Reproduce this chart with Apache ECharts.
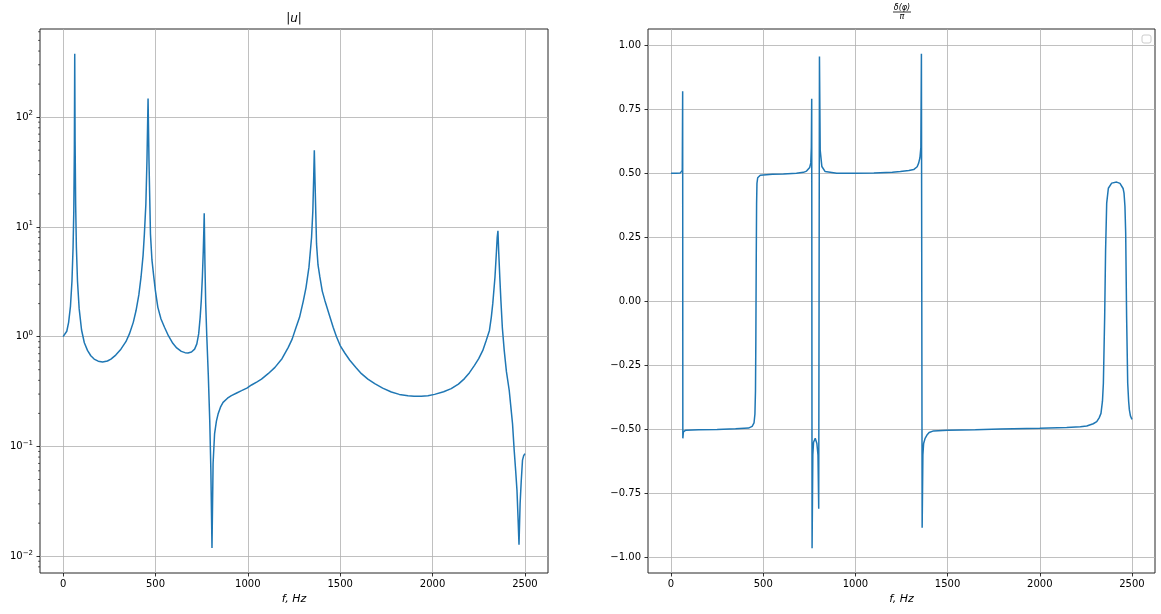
<!DOCTYPE html>
<html><head><meta charset="utf-8">
<script src="https://cdn.jsdelivr.net/npm/echarts@6/dist/echarts.min.js"></script>
<style>html,body{margin:0;padding:0;background:#fff}#c{width:1161px;height:614px}</style>
</head><body><div id="c"></div>
<script>
// |u| (left panel)
const ampFreq = [0,10,20,30,40,48,54,58,61,63,65,68,72,78,87,100,115,132,150,168,190,214,240,259,285,313,340,359,380,395,410,422,433,440,448,454,460,465,473,481,491,500,513,530,549,570,594,615,640,660,676,695,712,724,734,742,748,754,759,762,764,768,772,778,786,794,800,806,812,820,830,839,852,866,890,911,940,966,995,1020,1050,1074,1110,1147,1185,1219,1240,1260,1280,1300,1315,1331,1345,1352,1357,1360,1364,1372,1380,1390,1403,1417,1440,1462,1480,1500,1525,1552,1585,1615,1650,1687,1730,1777,1820,1867,1900,1939,1975,2011,2060,2101,2140,2173,2200,2227,2250,2272,2290,2308,2318,2326,2338,2346,2350,2354,2358,2364,2370,2378,2388,2400,2415,2425,2433,2442,2450,2457,2463,2468,2474,2480,2487,2493,2500];
const ampVal = [1.0,1.03,1.12,1.35,1.9,3.2,6.5,14,50,378,60,16,6.5,3.2,1.8,1.15,0.88,0.75,0.67,0.625,0.598,0.587,0.6,0.625,0.68,0.77,0.9,1.06,1.35,1.73,2.4,3.5,5.5,8.6,16,40,148,40,8.6,5.0,3.5,2.6,1.85,1.45,1.22,1.02,0.87,0.79,0.735,0.715,0.71,0.725,0.77,0.86,1.06,1.5,2.13,3.5,6.1,9.5,13.3,4.5,2.0,1.0,0.45,0.17,0.06,0.0119,0.07,0.13,0.17,0.197,0.228,0.252,0.275,0.29,0.307,0.322,0.34,0.363,0.388,0.41,0.46,0.525,0.63,0.8,0.95,1.2,1.5,2.1,2.8,4.3,8,14,30,50,25,7,4.5,3.5,2.6,2.14,1.6,1.22,1.0,0.83,0.71,0.61,0.525,0.46,0.41,0.373,0.34,0.313,0.298,0.29,0.287,0.286,0.29,0.298,0.315,0.336,0.37,0.415,0.47,0.548,0.63,0.75,0.92,1.14,1.5,2.0,3.5,6.0,8.0,9.2,6.0,3.5,2.14,1.2,0.75,0.48,0.325,0.22,0.161,0.092,0.06,0.04,0.022,0.0127,0.03,0.048,0.075,0.082,0.086];

// delta(phi)/pi (right panel)
const phaseFreq = [0,30,50,58,61,63,64,67,80,150,250,350,420,440,450,455,458,460,462,464,466,470,484,550,610,680,718,735,745,752,758,761,763,765,769,773,782,791,797,801,805,809,818,836,899,1000,1100,1200,1244,1290,1316,1335,1343,1350,1355,1358,1362,1366,1370,1378,1388,1400,1424,1500,1650,1785,2000,2146,2220,2255,2290,2309,2322,2332,2340,2345,2352,2357,2363,2372,2390,2417,2435,2444,2452,2457,2462,2466,2471,2477,2482,2486,2492,2500];
const phaseVal = [0.5,0.5,0.501,0.503,0.51,0.82,-0.535,-0.51,-0.503,-0.501,-0.5,-0.498,-0.495,-0.488,-0.475,-0.44,-0.35,-0.15,0.15,0.38,0.46,0.482,0.492,0.496,0.497,0.5,0.503,0.508,0.513,0.522,0.54,0.6,0.79,-0.964,-0.6,-0.55,-0.535,-0.555,-0.6,-0.81,0.955,0.59,0.526,0.506,0.5,0.5,0.501,0.503,0.506,0.51,0.514,0.525,0.539,0.56,0.6,0.966,-0.884,-0.6,-0.555,-0.535,-0.522,-0.512,-0.506,-0.503,-0.501,-0.499,-0.496,-0.493,-0.49,-0.487,-0.478,-0.47,-0.455,-0.4375,-0.39,-0.32,-0.06,0.2,0.383,0.441,0.461,0.465,0.46,0.454,0.44,0.422,0.37,0.266,-0.06,-0.32,-0.39,-0.424,-0.448,-0.461];

const xTicks = [0,500,1000,1500,2000,2500];
const ampTicks = [0.01,0.1,1,10,100];
const phaseTicks = [-1,-0.75,-0.5,-0.25,0,0.25,0.5,0.75,1];

const FONT = 'DejaVu Sans';
const LINE = '#1f77b4';
const GRIDC = '#b0b0b0';

const chart = echarts.init(document.getElementById('c'), null, {renderer:'canvas'});

function xAxisCfg(gi){
  return {
    type:'value', gridIndex:gi, min:-125, max:2625, position:'bottom',
    axisLine:{show:false, onZero:false},
    axisTick:{show:true, inside:false, length:3.5, customValues:xTicks, lineStyle:{color:'#000', width:0.8}},
    axisLabel:{customValues:xTicks, fontSize:10, color:'#000', margin:6, fontFamily:FONT,
      formatter:function(v){ return String(v); }},
    splitLine:{show:true, lineStyle:{color:GRIDC, width:0.8}},
    name:'f, Hz', nameLocation:'middle', nameGap:20,
    nameTextStyle:{fontStyle:'italic', fontSize:11, color:'#000', fontFamily:FONT}
  };
}

function supFmt(v){
  const e = Math.round(Math.log10(v));
  return '10{sup|' + (e < 0 ? '\u2212' : '') + Math.abs(e) + '}';
}

const option = {
  animation:false,
  backgroundColor:'#fff',
  grid:[
    {left:40, top:29, width:508, height:544, show:true, borderColor:'#262626', borderWidth:1, containLabel:false},
    {left:648, top:29, width:507, height:544, show:true, borderColor:'#262626', borderWidth:1, containLabel:false}
  ],
  xAxis:[xAxisCfg(0), xAxisCfg(1)],
  yAxis:[
    {type:'log', logBase:10, gridIndex:0, position:'left', min:Math.pow(10,-2.153), max:Math.pow(10,2.803),
     axisLine:{show:false, onZero:false},
     axisTick:{show:true, inside:false, length:3.5, customValues:ampTicks, lineStyle:{color:'#000', width:0.8}},
     axisLabel:{customValues:ampTicks, fontSize:10, color:'#000', margin:7, fontFamily:FONT,
       formatter:supFmt,
       rich:{sup:{fontSize:7, color:'#000', fontFamily:FONT, padding:[0,0,7,0]}}},
     splitLine:{show:true, lineStyle:{color:GRIDC, width:0.8}}
    },
    {type:'value', gridIndex:1, position:'left', min:-1.0605, max:1.0625,
     axisLine:{show:false, onZero:false},
     axisTick:{show:true, inside:false, length:3.5, customValues:phaseTicks, lineStyle:{color:'#000', width:0.8}},
     axisLabel:{customValues:phaseTicks, fontSize:10, color:'#000', margin:7, fontFamily:FONT,
       formatter:function(v){ return (v < 0 ? '\u2212' : '') + Math.abs(v).toFixed(2); }},
     splitLine:{show:true, lineStyle:{color:GRIDC, width:0.8}}
    }
  ],
  series:[
    {type:'line', xAxisIndex:0, yAxisIndex:0, showSymbol:false, symbol:'none',
     data: ampFreq.map((f,i)=>[f, ampVal[i]]),
     lineStyle:{color:LINE, width:1.5}, itemStyle:{color:LINE}, z:5},
    {type:'line', xAxisIndex:1, yAxisIndex:1, showSymbol:false, symbol:'none',
     data: phaseFreq.map((f,i)=>[f, phaseVal[i]]),
     lineStyle:{color:LINE, width:1.5}, itemStyle:{color:LINE}, z:5}
  ]
};
chart.setOption(option);

// titles, empty legend frame, log minor ticks
const g = [];
g.push({type:'text', x:294, y:19, style:{text:'|{i|u}|', fontSize:12, fontFamily:FONT, fill:'#000',
  align:'center', verticalAlign:'middle', rich:{i:{fontStyle:'italic', fontSize:12, fontFamily:FONT, fill:'#000'}}}});
g.push({type:'text', x:902, y:7.5, style:{text:'\u03b4(\u03c6)', fontSize:8, fontStyle:'italic', fontFamily:FONT, fill:'#000', align:'center', verticalAlign:'middle'}});
g.push({type:'line', shape:{x1:893, y1:12, x2:911, y2:12}, style:{stroke:'#000', lineWidth:0.8}});
g.push({type:'text', x:902, y:16.5, style:{text:'\u03c0', fontSize:8, fontStyle:'italic', fontFamily:FONT, fill:'#000', align:'center', verticalAlign:'middle'}});
g.push({type:'rect', shape:{x:1142, y:35, width:9, height:8, r:2}, style:{fill:'#fff', stroke:'#cccccc', lineWidth:1}});

const x0 = chart.convertToPixel({xAxisIndex:0}, -125);
const ymin = Math.pow(10,-2.153), ymax = Math.pow(10,2.803);
for (let k = -3; k <= 2; k++) {
  for (let m = 2; m <= 9; m++) {
    const v = m * Math.pow(10, k);
    if (v <= ymin || v >= ymax) continue;
    const y = chart.convertToPixel({yAxisIndex:0}, v);
    g.push({type:'line', shape:{x1:x0-2, y1:y, x2:x0, y2:y}, style:{stroke:'#000', lineWidth:0.6}});
  }
}
chart.setOption({graphic:g});
</script>
</body></html>
